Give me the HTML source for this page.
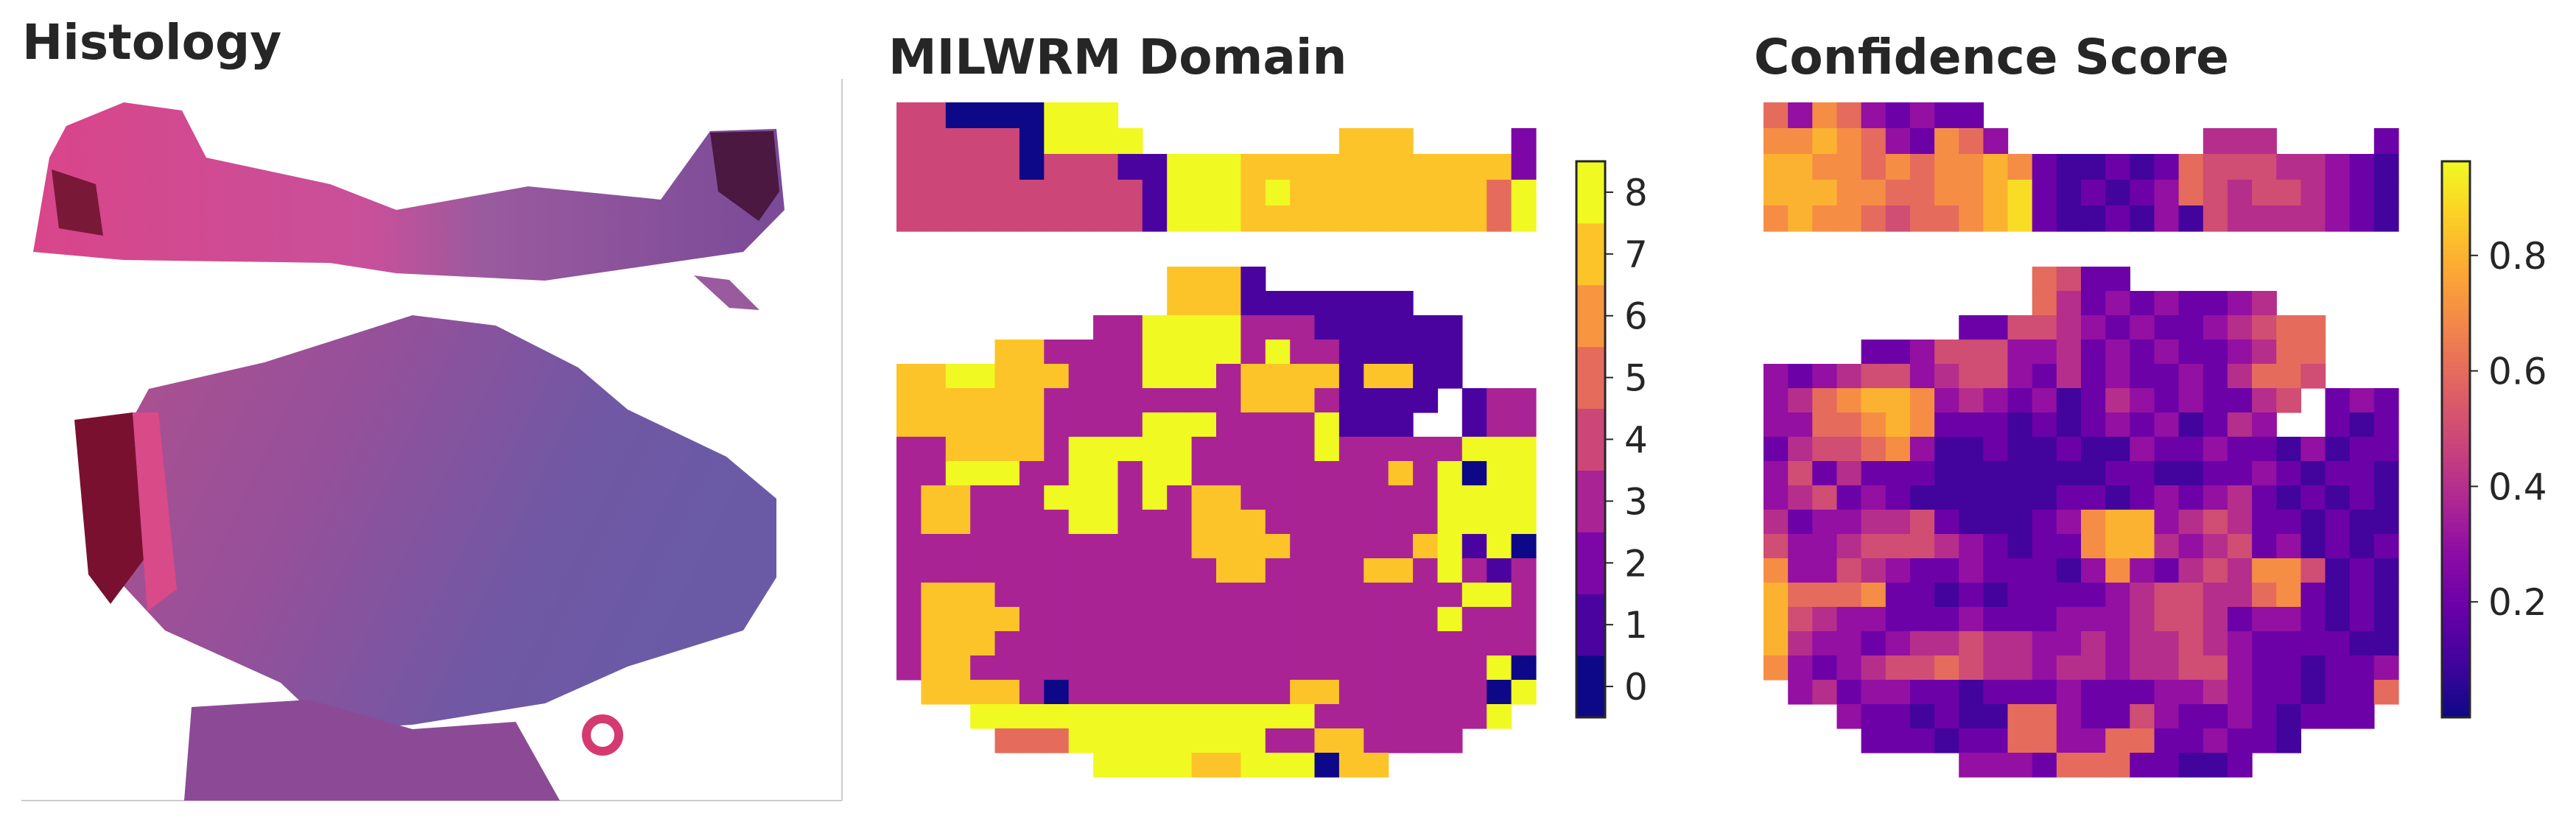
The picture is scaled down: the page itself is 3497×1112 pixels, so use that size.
<!DOCTYPE html>
<html><head><meta charset="utf-8"><style>
html,body{margin:0;padding:0;background:#fff;}
svg{display:block;font-family:"DejaVu Sans","Liberation Sans",sans-serif;}
</style></head><body>
<svg id="fig" width="3497" height="1112" viewBox="0 0 3497 1112" xmlns="http://www.w3.org/2000/svg">
<defs>
<linearGradient id="tg" x1="0" y1="0" x2="1" y2="0"><stop offset="0" stop-color="#d9458a"/><stop offset="0.45" stop-color="#c8509a"/><stop offset="0.6" stop-color="#9a5a9e"/><stop offset="1" stop-color="#7a4a98"/></linearGradient>
<linearGradient id="bg" x1="0" y1="0" x2="1" y2="0.3"><stop offset="0" stop-color="#b0508e"/><stop offset="0.4" stop-color="#95509a"/><stop offset="0.75" stop-color="#7058a4"/><stop offset="1" stop-color="#6a5aa6"/></linearGradient>
</defs>
<g>
<text x="30" y="80" font-size="66" font-weight="bold" fill="#262626">Histology</text>
<line x1="1143" y1="107" x2="1143" y2="1087" stroke="#cccccc" stroke-width="2"/>
<line x1="29" y1="1087" x2="1143" y2="1087" stroke="#cccccc" stroke-width="2"/>
<path fill="url(#tg)" d="M90,171 L168,139 L247,150 L280,214 L448,250 L538,285 L717,253 L897,271 L964,178 L1054,175 L1065,285 L1009,342 L740,381 L538,371 L448,357 L168,353 L45,342 L67,214 Z"/>
<path fill="#4a1840" d="M964,180 L1050,178 L1058,260 L1030,300 L975,260 Z"/>
<path fill="#7a1838" d="M70,230 L130,250 L140,320 L80,310 Z"/>
<path fill="#9a5a9e" d="M942,374 L990,380 L1031,421 L990,418 Z"/>
<path fill="url(#bg)" d="M202,528 L359,492 L560,428 L673,442 L785,499 L852,556 L986,620 L1054,677 L1054,784 L1009,856 L852,905 L740,955 L560,984 L448,991 L381,927 L224,856 L157,784 L135,677 L179,570 Z"/>
<path fill="#7a1030" d="M101,570 L180,560 L195,760 L150,820 L120,780 Z"/>
<path fill="#d94a88" d="M180,560 L215,560 L240,800 L200,830 Z"/>
<path fill="#8c4a96" d="M260,960 L420,950 L560,990 L700,980 L760,1087 L250,1087 Z"/>
<circle cx="818" cy="998" r="22" fill="none" stroke="#d43a70" stroke-width="12"/>
</g>
<g id="dom">
<text x="1206" y="100" font-size="66" font-weight="bold" fill="#262626">MILWRM Domain</text>
</g>
<g id="conf">
<text x="2381" y="100" font-size="66" font-weight="bold" fill="#262626">Confidence Score</text>
</g>
</svg>
<script>
// ---- data ----
const domainTop = [
"440000888.................",
"4444408888........777....2",
"44444044411888777777777772",
"44444444441888787777777758",
"44444444441888777777777758"];
const domainBottom = [
"...........7771...........",
"...........7771111111.....",
"........338888333111111...",
"....7733338888383311111...",
"77887773338883777717711...",
"7777773333333377731111.133",
"777777333388833338111..133",
"33777738888833333833333888",
"33888338838833333333738088",
"37733388838377333333338888",
"37733338833377733333338888",
"33333333333377773333378180",
"33333333333337733337738313",
"37773333333333333333333883",
"37777333333333333333338333",
"37773333333333333333333333",
"37733333333333333333333380",
".7777303333333337733333308",
"...8888888888888833333338.",
"....5558888888833773333....",
"........8888778880 77......".replace(' ','')+"."];
const confTop = [
"637632322.................",
"7787632763........444....2",
"88776767787211212655544321",
"88877667789212123654554321",
"78776566789211213154444321"];
const confBottom = [
"...........6522...........",
"...........6423232234.....",
"........225543232234566...",
"....2235553342323223466...",
"32345534553242322324665...",
"3467887343231243232245.232",
"336678722212123231243..212",
"24556731121121132232213122",
"35242221111111221122321221",
"34523211111122123234212121",
"42334452111237883454221211",
"53345554321227884345231212",
"73354322322213732454775121",
"86667221212222345544672121",
"85433222322233345542332121",
"84332344544334344543222211",
"73234556544344344553221223",
".3423322122232223343221226",
"...3221211663225322321222.",
"....222122663366223221....",
"........333266622112......."];
const domainTicks = [0,1,2,3,4,5,6,7,8];
const confTicks = [0.2,0.4,0.6,0.8];
const confMax = 0.963;

// ---- colormap ----
const PL = ["#0d0887","#41049d","#6a00a8","#8f0da4","#b12a90","#cc4778","#e16462","#f2844b","#fca636","#fcce25","#f0f921"];
function hx(h){return [parseInt(h.substr(1,2),16),parseInt(h.substr(3,2),16),parseInt(h.substr(5,2),16)];}
function plasma(t){t=Math.max(0,Math.min(1,t));const f=t*10,i=Math.min(9,Math.floor(f)),u=f-i;const a=hx(PL[i]),b=hx(PL[i+1]);return "rgb("+a.map((v,k)=>Math.round(v+(b[k]-v)*u)).join(",")+")";}

const NS="http://www.w3.org/2000/svg";
function mk(tag,attrs,parent){const e=document.createElementNS(NS,tag);for(const k in attrs)e.setAttribute(k,attrs[k]);parent.appendChild(e);return e;}

function drawGrid(parent,rows,x0,y0,w,h,colorFn,name){
  const g=mk("g",{},parent);
  
  
  rows.forEach((row,r)=>{for(let c=0;c<26;c++){const ch=row[c];if(!ch||ch==='.')continue;
    const e=mk("rect",{x:(x0+c*w).toFixed(1),y:(y0+r*h).toFixed(1),width:(w+0.6).toFixed(1),height:(h+0.6).toFixed(1),fill:colorFn(+ch)},g);
    
    
  }});
}
const dom=document.getElementById('dom'), conf=document.getElementById('conf');
const domColor=v=>plasma(v/8);
const confColor=v=>plasma((v/10)/confMax);
drawGrid(dom,domainTop,1217,139,868/26,35,domColor,'domain-map-top');
drawGrid(dom,domainBottom,1217,362,868/26,33,domColor,'domain-map-bottom');
drawGrid(conf,confTop,2394,139,862/26,35,confColor,'confidence-map-top');
drawGrid(conf,confBottom,2394,362,862/26,33,confColor,'confidence-map-bottom');

// colorbars
const cbTop=219, cbBot=974;
function cbar(parent,name){const g=mk("g",{},parent);return g;}
const cb1=cbar(dom,'domain-colorbar');
const bandH=(cbBot-cbTop)/domainTicks.length;
domainTicks.forEach((k,i)=>{
  const y=cbBot-(i+1)*bandH;
  const r=mk("rect",{x:2140,y:y.toFixed(1),width:39,height:(bandH+0.5).toFixed(1),fill:plasma(k/8)},cb1);
  
  
  const ty=y+bandH/2;
  const t=mk("line",{x1:2179,y1:ty,x2:2190,y2:ty,stroke:"#262626","stroke-width":2},cb1);
  
  
  const lb=mk("text",{x:2205,y:ty+18,"font-size":50,fill:"#262626"},cb1);
  lb.textContent=String(k);
  
  
});
const o1=mk("rect",{x:2140,y:cbTop,width:39,height:cbBot-cbTop,fill:"none",stroke:"#262626","stroke-width":3},cb1);



const cb2=cbar(conf,'confidence-colorbar');
const N=120, sh=(cbBot-cbTop)/N;
for(let i=0;i<N;i++){
  const r=mk("rect",{x:3315,y:(cbBot-(i+1)*sh).toFixed(2),width:38,height:(sh+0.6).toFixed(2),fill:plasma((i+0.5)/N)},cb2);
  
  
}
const yConf=v=>cbBot-(v/confMax)*(cbBot-cbTop);
confTicks.forEach(v=>{
  const ty=yConf(v);
  const t=mk("line",{x1:3353,y1:ty,x2:3364,y2:ty,stroke:"#262626","stroke-width":2},cb2);
  
  
  const lb=mk("text",{x:3378,y:ty+18,"font-size":50,fill:"#262626"},cb2);
  lb.textContent=v.toFixed(1);
  
  
});
const o2=mk("rect",{x:3315,y:cbTop,width:38,height:cbBot-cbTop,fill:"none",stroke:"#262626","stroke-width":3},cb2);


</script>
</body></html>
